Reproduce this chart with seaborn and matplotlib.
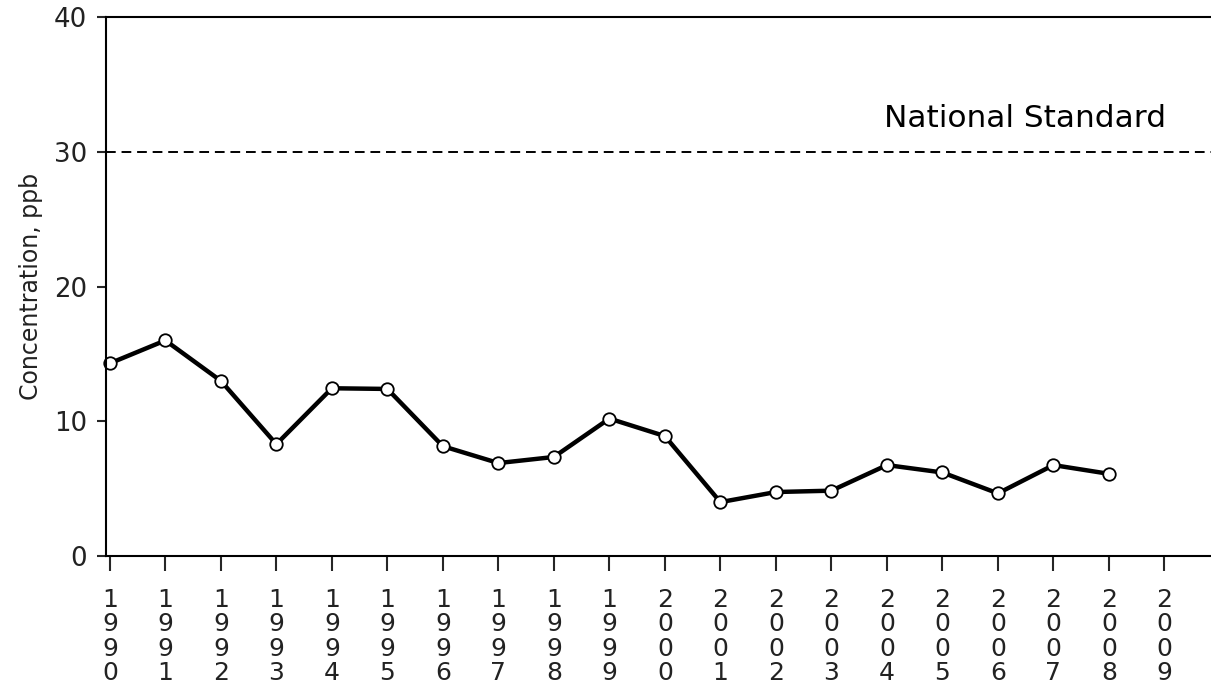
import matplotlib
matplotlib.use("Agg")
import matplotlib.pyplot as plt
import pandas as pd
import seaborn as sns

# valores
anios = list(range(1990, 2009))
concentracion = [14.3, 16.0, 13.0, 8.3, 12.45, 12.4, 8.15, 6.9, 7.35, 10.2,
                 8.9, 4.0, 4.75, 4.85, 6.75, 6.2, 4.65, 6.75, 6.1]
ticks_x = list(range(1990, 2011))
ticks_y = [0, 10, 20, 30, 40]
norma_nacional = 30
texto_norma = "National Standard"
etiqueta_y = "Concentration, ppb"

sns.set_style("ticks")
plt.rcParams["font.family"] = ["DejaVu Sans"]

df = pd.DataFrame({"anio": anios, "conc": concentracion})

fig = plt.figure(figsize=(12.11, 6.98), dpi=100)
ax = fig.add_axes([0.0875, 0.2034, 0.9428, 0.7722])

sns.lineplot(data=df, x="anio", y="conc", ax=ax, color="black", linewidth=3.2,
             marker="o", markersize=9, markerfacecolor="white",
             markeredgecolor="black", markeredgewidth=1.3, clip_on=False)

ax.axhline(norma_nacional, color="black", linestyle=(0, (5, 3)), linewidth=1.4)
ax.text(2006.49, norma_nacional + 2.5, texto_norma, ha="center", va="center",
        fontsize=22.5, color="black")

ax.set_xlim(1989.93, 2010.5)
ax.set_ylim(0, 40)
ax.set_xticks(ticks_x)
ax.set_xticklabels(["\n".join(str(a)) for a in ticks_x], fontsize=18,
                   linespacing=1.02, color="#222222")
ax.set_yticks(ticks_y)
ax.set_yticklabels([str(v) for v in ticks_y], fontsize=18.7, color="#222222")
ax.set_xlabel("")
ax.set_ylabel(etiqueta_y, fontsize=17, color="#222222", labelpad=8)

for lado in ["left", "bottom", "top"]:
    ax.spines[lado].set_visible(True)
    ax.spines[lado].set_linewidth(1.5)
    ax.spines[lado].set_color("black")
ax.spines["right"].set_visible(False)

ax.tick_params(axis="x", direction="out", length=11, width=1.5, pad=12)
ax.tick_params(axis="y", direction="out", length=6.5, width=1.5, pad=7)
ax.grid(False)

fig.savefig("out.png", dpi=100)
